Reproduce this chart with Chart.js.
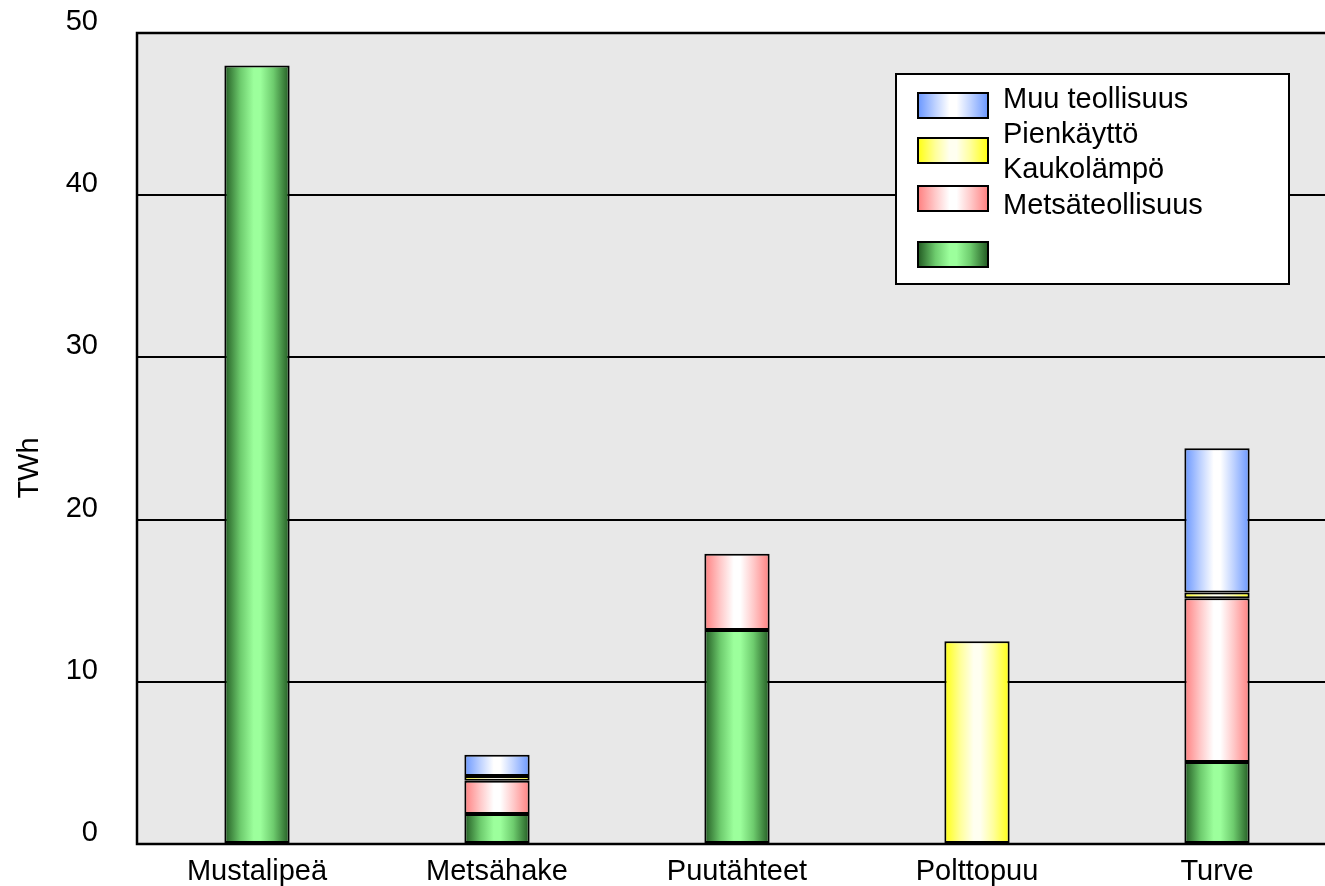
<!DOCTYPE html>
<html>
<head>
<meta charset="utf-8">
<script src="https://cdn.jsdelivr.net/npm/chart.js@4.4.1/dist/chart.umd.min.js"></script>
<style>
  html, body { margin: 0; padding: 0; background: #fff; overflow: hidden; }
  #wrap { width: 1340px; height: 886px; }
</style>
</head>
<body>
<div id="wrap"><canvas id="chart" width="1340" height="886"></canvas></div>
<script>
// Fuel use by sector, TWh
const categories = ['Mustalipeä', 'Metsähake', 'Puutähteet', 'Polttopuu', 'Turve'];
const sahko = [48, 1.85, 13.2, null, 5.05];          // green, unlabelled in legend
const metsateollisuus = [null, 2.05, 4.7, null, 10.1];
const pienkaytto = [null, 0.3, null, 12.5, 0.35];
const muuTeollisuus = [null, 1.3, null, null, 8.9];
const yTicks = [0, 10, 20, 30, 40, 50];

const legendLabels = ['Muu teollisuus', 'Pienkäyttö', 'Kaukolämpö', 'Metsäteollisuus'];

const FONT = "'Liberation Sans', Arial, sans-serif";
const BAR_FRAC = 0.272;

// edge / centre colours for the cylinder-like shading
const SHADES = {
  green:  ['#225a22', '#6ecc6e', '#9cff9c'],
  red:    ['#ff8080', '#ffcaca', '#ffffff'],
  yellow: ['#ffff10', '#ffff9c', '#fffff0'],
  blue:   ['#6a97ff', '#c0d3ff', '#ffffff']
};

function makeGradient(ctx, x0, x1, shade) {
  const [edge, half, mid] = SHADES[shade];
  const g = ctx.createLinearGradient(x0, 0, x1, 0);
  g.addColorStop(0, edge);
  g.addColorStop(0.25, half);
  g.addColorStop(0.45, mid);
  g.addColorStop(0.55, mid);
  g.addColorStop(0.75, half);
  g.addColorStop(1, edge);
  return g;
}

function barFill(shade) {
  return c => {
    const chart = c.chart;
    const xs = chart.scales && chart.scales.x;
    if (!xs || !chart.chartArea) return SHADES[shade][0];
    const cx = xs.getPixelForValue(c.dataIndex);
    const w = xs.width / categories.length * BAR_FRAC;
    return makeGradient(chart.ctx, cx - w / 2, cx + w / 2, shade);
  };
}

// plot background + frame
const frame = {
  id: 'frame',
  beforeDraw(chart) {
    const { ctx, chartArea: a } = chart;
    ctx.save();
    ctx.fillStyle = '#e8e8e8';
    ctx.fillRect(a.left, a.top, a.right - a.left, a.bottom - a.top);
    ctx.restore();
  },
  afterDatasetsDraw(chart) {
    const { ctx, chartArea: a } = chart;
    ctx.save();
    ctx.strokeStyle = '#000';
    ctx.lineWidth = 2.5;
    ctx.strokeRect(a.left, a.top, a.right - a.left, a.bottom - a.top);
    ctx.restore();
  }
};

// legend box with swatches and labels, plus the y title
const legendBox = {
  id: 'legendBox',
  afterDraw(chart) {
    const ctx = chart.ctx;
    ctx.save();
    ctx.fillStyle = '#fff';
    ctx.fillRect(896, 74, 393, 210);
    ctx.strokeStyle = '#000';
    ctx.lineWidth = 2;
    ctx.strokeRect(896, 74, 393, 210);

    const swatches = [['blue', 93], ['yellow', 138], ['red', 186], ['green', 242]];
    swatches.forEach(([shade, y]) => {
      ctx.fillStyle = makeGradient(ctx, 918, 988, shade);
      ctx.fillRect(918, y, 70, 25);
      ctx.lineWidth = 2;
      ctx.strokeStyle = '#000';
      ctx.strokeRect(918, y, 70, 25);
    });

    ctx.fillStyle = '#000';
    ctx.font = '29px ' + FONT;
    ctx.textAlign = 'left';
    ctx.textBaseline = 'alphabetic';
    legendLabels.forEach((t, i) => ctx.fillText(t, 1003, 108 + i * 35.2));

    ctx.translate(38, 468);
    ctx.rotate(-Math.PI / 2);
    ctx.textAlign = 'center';
    ctx.fillText('TWh', 0, 0);
    ctx.restore();
  }
};

const common = { borderColor: '#000', borderWidth: 2, borderSkipped: false,
                 barPercentage: BAR_FRAC, categoryPercentage: 1 };

new Chart(document.getElementById('chart'), {
  type: 'bar',
  data: {
    labels: categories,
    datasets: [
      { label: '', data: sahko, backgroundColor: barFill('green'), ...common },
      { label: 'Metsäteollisuus', data: metsateollisuus, backgroundColor: barFill('red'), ...common },
      { label: 'Pienkäyttö', data: pienkaytto, backgroundColor: barFill('yellow'), ...common },
      { label: 'Muu teollisuus', data: muuTeollisuus, backgroundColor: barFill('blue'), ...common }
    ]
  },
  options: {
    responsive: false,
    animation: false,
    layout: { padding: { top: 33, right: 3, left: 0, bottom: 0 } },
    plugins: { legend: { display: false }, tooltip: { enabled: false } },
    scales: {
      x: {
        stacked: true,
        grid: { display: false, drawTicks: false },
        border: { display: false },
        ticks: { color: '#000', font: { family: FONT, size: 29 }, padding: 11, maxRotation: 0 },
        afterFit: s => { s.height = 42; s.paddingLeft = 0; s.paddingRight = 0; }
      },
      y: {
        stacked: true,
        min: 0,
        max: 50,
        grid: { color: '#000', lineWidth: 2, drawTicks: false },
        border: { display: false },
        afterBuildTicks: s => { s.ticks = yTicks.map(v => ({ value: v })); },
        ticks: { color: '#000', font: { family: FONT, size: 29 }, padding: 39, labelOffset: -11 },
        afterFit: s => { s.width = 137; s.paddingTop = 0; s.paddingBottom = 0; }
      }
    }
  },
  plugins: [frame, legendBox]
});
</script>
</body>
</html>
